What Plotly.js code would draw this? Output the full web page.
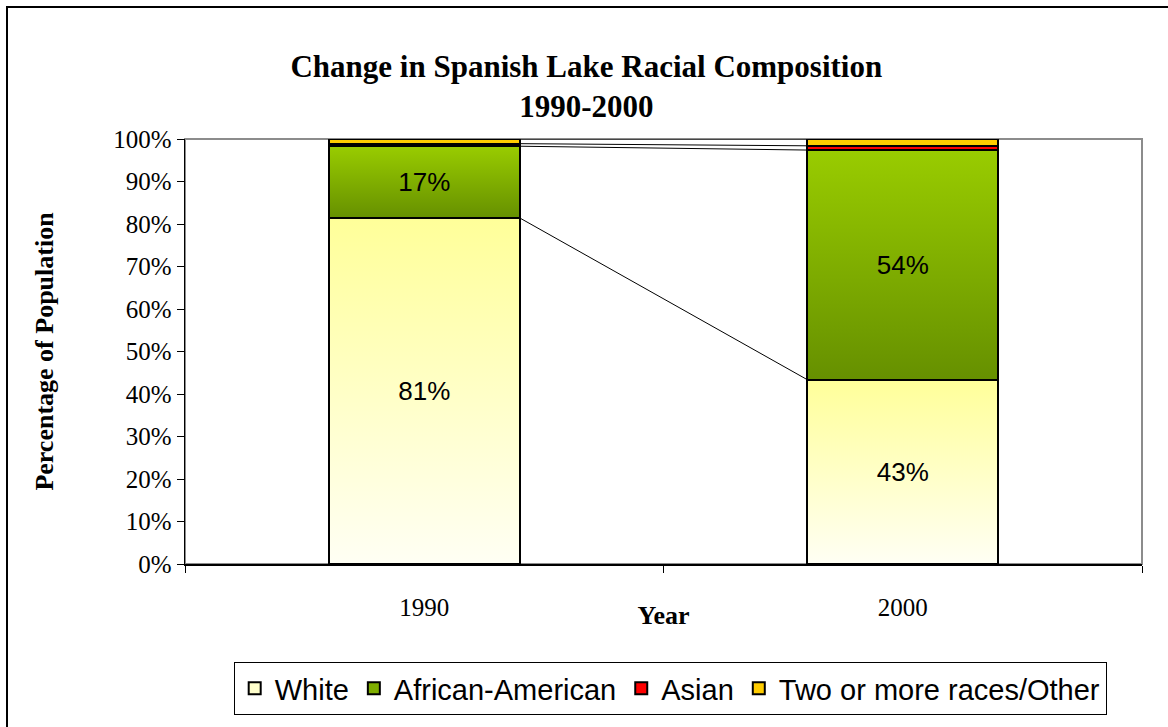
<!DOCTYPE html>
<html>
<head>
<meta charset="utf-8">
<script src="https://cdn.plot.ly/plotly-3.0.1.min.js"></script>
<style>
  html, body { margin: 0; padding: 0; background: #fff; overflow: hidden; }
  #wrap { position: relative; width: 1168px; height: 727px; }
  #chart { position: absolute; left: 0; top: 0; width: 1168px; height: 727px; }
  #frame { position: absolute; left: 6px; top: 6px; width: 1200px; height: 800px;
           border: 2px solid #000; pointer-events: none; box-sizing: border-box; }
</style>
</head>
<body>
<div id="wrap">
  <div id="chart"></div>
  <div id="frame"></div>
</div>
<script>
// ---- data ----
const years = ['1990', '2000'];
const seriesNames = ['White', 'African-American', 'Asian', 'Two or more races/Other'];
const white = [81.4, 43.4];
const africanAmerican = [16.9, 54.0];
const asian = [0.6, 1.0];
const otherRaces = [1.1, 1.6];
const labelled = [true, true, false, false];
const legendColors = ['#FFFFCC', '#7FAE00', '#FF0000', '#FFCC00'];

const allSeries = [white, africanAmerican, asian, otherRaces];
const xPos = years.map((y, i) => i);
const barWidth = 0.4;

const traces = [];
allSeries.forEach((vals, s) => {
  traces.push({
    type: 'bar',
    name: seriesNames[s],
    x: xPos,
    y: vals,
    width: barWidth,
    marker: { color: legendColors[s], line: { color: '#000', width: 2 } },
    text: labelled[s] ? vals.map(v => Math.round(v) + '%') : vals.map(() => ''),
    textposition: labelled[s] ? 'inside' : 'none',
    insidetextanchor: 'middle',
    textangle: 0,
    constraintext: 'none',
    insidetextfont: { family: 'Liberation Sans, Arial, sans-serif', size: 26, color: '#000' },
    hoverinfo: 'skip'
  });
});

// connector lines between cumulative segment tops
let cum = xPos.map(() => 0);
allSeries.forEach((vals, s) => {
  cum = cum.map((c, i) => c + vals[i]);
  traces.push({
    type: 'scatter',
    mode: 'lines',
    xaxis: 'x2',
    x: [xPos[0] + barWidth / 2, xPos[1] - barWidth / 2],
    y: [cum[0], cum[1]],
    line: { color: '#000', width: 1 },
    showlegend: false,
    hoverinfo: 'skip'
  });
});

const serif = 'Liberation Serif, Times New Roman, serif';
const layout = {
  width: 1168, height: 727,
  paper_bgcolor: '#fff', plot_bgcolor: '#fff',
  margin: { l: 185, r: 26, t: 139, b: 163 },
  barmode: 'stack',
  showlegend: true,
  title: {
    text: '<b>Change in Spanish Lake Racial Composition<br>1990-2000</b>',
    font: { family: serif, size: 31, color: '#000' },
    x: 0.502, xref: 'container', xanchor: 'center',
    y: 1 - 77 / 727, yref: 'container', yanchor: 'middle'
  },
  xaxis: {
    range: [-0.5, 1.5],
    tickvals: [-0.5, 0.5, 1.5],
    showticklabels: false,
    ticks: 'outside', ticklen: 7, tickcolor: '#000', tickwidth: 1,
    showline: true, linecolor: '#000', linewidth: 1.5,
    showgrid: false, zeroline: false, fixedrange: true,
    title: { text: '<b>Year</b>', font: { family: serif, size: 26, color: '#000' }, standoff: 34 }
  },
  xaxis2: {
    overlaying: 'x', anchor: 'y', side: 'bottom',
    range: [-0.5, 1.5],
    tickvals: xPos, ticktext: years,
    ticks: 'outside', ticklen: 21, tickcolor: 'rgba(0,0,0,0)',
    tickfont: { family: serif, size: 25, color: '#000' },
    showline: false, showgrid: false, zeroline: false, fixedrange: true
  },
  yaxis: {
    range: [0, 100],
    dtick: 10, tick0: 0, ticksuffix: '%',
    ticks: 'outside', ticklen: 7, tickcolor: '#000', tickwidth: 1,
    tickfont: { family: serif, size: 25, color: '#000' },
    showline: true, linecolor: '#000', linewidth: 1.5,
    showgrid: false, zeroline: false, fixedrange: true,
    title: { text: '<b>Percentage of Population</b>', font: { family: serif, size: 26, color: '#000' }, standoff: 52 }
  },
  legend: {
    orientation: 'h',
    x: 0.507, xanchor: 'center',
    y: -0.2306, yanchor: 'top',
    bordercolor: '#000', borderwidth: 1, bgcolor: '#fff',
    font: { family: 'Liberation Sans, Arial, sans-serif', size: 29, color: '#000' },
    itemwidth: 30, traceorder: 'normal', itemclick: false, itemdoubleclick: false
  },
  shapes: [{
    type: 'rect', xref: 'paper', yref: 'paper', x0: 0, x1: 1, y0: 0, y1: 1,
    line: { color: '#8c8c8c', width: 2 }, layer: 'below'
  }]
};

Plotly.newPlot('chart', traces, layout, { displayModeBar: false, staticPlot: true }).then(gd => {
  try {
    const defs = gd.querySelector('.main-svg defs');
    const ns = 'http://www.w3.org/2000/svg';
    const grads = [
      { id: 'gWhite', top: '#FFFF99', bottom: '#FFFFF4' },
      { id: 'gAA', top: '#99CC00', bottom: '#669000' }
    ];
    grads.forEach(g => {
      const lg = document.createElementNS(ns, 'linearGradient');
      lg.setAttribute('id', g.id);
      lg.setAttribute('x1', '0'); lg.setAttribute('y1', '0');
      lg.setAttribute('x2', '0'); lg.setAttribute('y2', '1');
      [[0, g.top], [1, g.bottom]].forEach(([o, c]) => {
        const st = document.createElementNS(ns, 'stop');
        st.setAttribute('offset', String(o));
        st.setAttribute('stop-color', c);
        lg.appendChild(st);
      });
      defs.appendChild(lg);
    });
    const barTraces = gd.querySelectorAll('.barlayer .trace');
    ['gWhite', 'gAA'].forEach((id, k) => {
      if (barTraces[k]) {
        barTraces[k].querySelectorAll('.point path').forEach(p => { p.style.fill = 'url(#' + id + ')'; });
      }
    });
  } catch (e) { console.log(e); }
});
</script>
</body>
</html>
